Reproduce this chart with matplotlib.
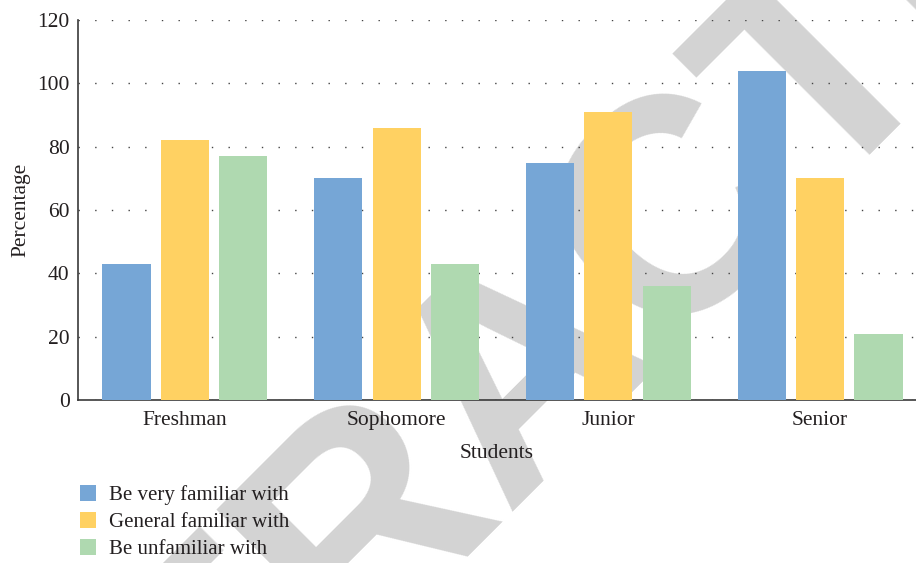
import numpy as np
import matplotlib
matplotlib.use('Agg')
import matplotlib.pyplot as plt
from matplotlib.patches import Patch

plt.rcParams['font.family'] = ['Liberation Serif', 'DejaVu Serif']

students = ['Freshman', 'Sophomore', 'Junior', 'Senior']
very_familiar = [43, 70, 75, 104]
general_familiar = [82, 86, 91, 70]
unfamiliar = [77, 43, 36, 21]
series_names = ['Be very familiar with', 'General familiar with', 'Be unfamiliar with']
colors = ['#76A6D6', '#FFD162', '#AFD9B0']

fig = plt.figure(figsize=(9.16, 5.63), dpi=100)
ax = fig.add_axes([78 / 916, 1 - 400 / 563, 1 - 78 / 916, 380 / 563])
ax.patch.set_alpha(0)

# watermark behind everything
fig.text(580 / 916, 1 - 424 / 563, 'RETRACTED', family='Liberation Sans', weight='bold',
         fontsize=220, color='#D3D3D3', rotation=45, rotation_mode='anchor',
         ha='center', va='baseline', zorder=-5)

x = np.arange(len(students))
w = 0.227
step = 0.276
for i, vals in enumerate([very_familiar, general_familiar, unfamiliar]):
    ax.bar(x + (i - 1) * step, vals, width=w, color=colors[i], zorder=3)

ax.set_xlim(-0.505, 3.453)
ax.set_ylim(0, 120)
ax.set_yticks(range(0, 121, 20))
ax.set_xticks(x)
ax.set_xticklabels(students)
ax.tick_params(length=0, labelsize=15.5, colors='#231F20')
ax.tick_params(axis='x', pad=8)
ax.tick_params(axis='y', pad=6)
ax.yaxis.grid(True, linestyle=(0, (1, 11)), color='#444444', linewidth=1.0)
ax.set_axisbelow(True)
for s in ['top', 'right']:
    ax.spines[s].set_visible(False)
for s in ['left', 'bottom']:
    ax.spines[s].set_color('#3a3a3a')
    ax.spines[s].set_linewidth(1.2)

ax.set_xlabel('Students', fontsize=15.5, color='#231F20', labelpad=10)
ax.set_ylabel('Percentage', fontsize=15.5, color='#231F20', labelpad=5)

handles = [Patch(facecolor=c, edgecolor='none') for c in colors]
fig.legend(handles, series_names, loc='upper left', bbox_to_anchor=(80 / 916, 1 - 485 / 563),
           frameon=False, fontsize=15, borderpad=0, borderaxespad=0,
           handlelength=0.77, handleheight=0.77,
           handletextpad=0.62, labelspacing=0.34, labelcolor='#231F20')

fig.savefig('out.png', dpi=100)
